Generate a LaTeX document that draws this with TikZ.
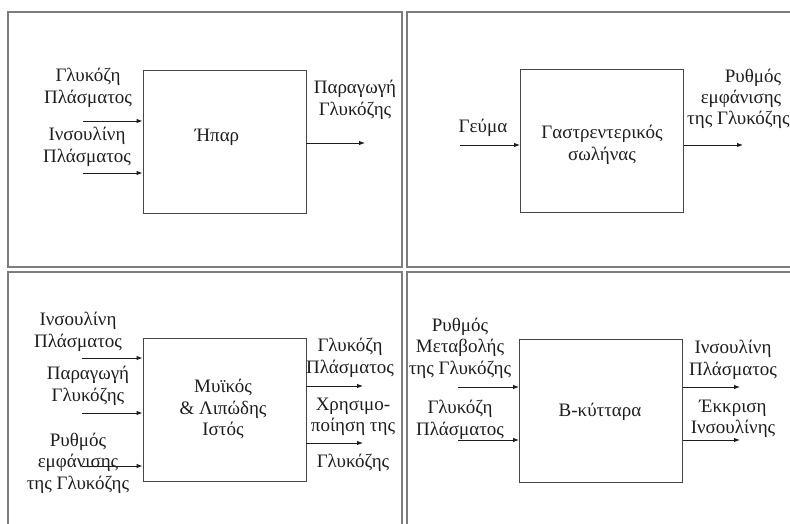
\documentclass[tikz,border=0pt]{standalone}
\usepackage{fontspec}
\setmainfont{Liberation Serif}
\usetikzlibrary{arrows.meta}
\definecolor{framegray}{RGB}{125,125,125}
\definecolor{blockgray}{RGB}{70,70,70}
\definecolor{inkgray}{RGB}{30,30,30}

\begin{document}
\begin{tikzpicture}[x=1pt, y=-1pt,
    panel/.style={draw=framegray, line width=1.6pt},
    block/.style={rectangle, draw=blockgray, line width=0.9pt, minimum width=163pt, minimum height=143pt, inner sep=0pt},
    lbl/.style={align=center, inner sep=0pt, text=inkgray, font=\fontsize{19}{21.5}\selectfont},
    sig/.style={line width=0.9pt, color=inkgray, -{Latex[length=6pt, width=4.5pt]}}
]
\useasboundingbox (0,0) rectangle (790,524);
\clip (0,0) rectangle (790,524);
% four panels
\draw[panel] (8,12) rectangle (402,267);
\draw[panel] (407,12) rectangle (800,267);
\draw[panel] (8,272) rectangle (402,540);
\draw[panel] (407,272) rectangle (800,540);

% liver
\node[block] (hpar) at (224.5,141.5) {};
\node[lbl] (hparname) at (217,137) {Ήπαρ};
\node[lbl] (glcA) at (88,88) {Γλυκόζη\\Πλάσματος};
\node[lbl] (insA) at (87,147) {Ινσουλίνη\\Πλάσματος};
\node[lbl] (prodA) at (355,100) {Παραγωγή\\Γλυκόζης};
\coordinate (glcAin) at (83,121);
\coordinate (insAin) at (83,173);
\coordinate (prodAout) at (365,143);
\draw[sig] (glcAin) -- (glcAin -| hpar.west);
\draw[sig] (insAin) -- (insAin -| hpar.west);
\draw[sig] (prodAout -| hpar.east) -- (prodAout);

% gut
\node[block] (gut) at (602,141) {};
\node[lbl] (gutname) at (602,145) {Γαστρεντερικός\\σωλήνας};
\node[lbl] (meal) at (483,128) {Γεύμα};
\node[lbl] (rateBa) at (753,78) {Ρυθμός};
\node[lbl] (rateBb) at (741,99) {εμφάνισης};
\node[lbl, anchor=west] (rateBc) at (687,120) {της Γλυκόζης};
\coordinate (mealin) at (460,145);
\coordinate (rateBout) at (743,145);
\draw[sig] (mealin) -- (mealin -| gut.west);
\draw[sig] (rateBout -| gut.east) -- (rateBout);

% muscle and fat
\node[block] (tissue) at (224.5,410) {};
\node[lbl] (tissuename) at (223,409) {Μυϊκός\\\& Λιπώδης\\Ιστός};
\node[lbl] (insC) at (78,332) {Ινσουλίνη\\Πλάσματος};
\node[lbl] (prodC) at (88,386) {Παραγωγή\\Γλυκόζης};
\node[lbl] (rateC) at (78,463) {Ρυθμός\\εμφάνισης\\της Γλυκόζης};
\node[lbl] (glcC) at (350,358) {Γλυκόζη\\Πλάσματος};
\node[lbl] (useC) at (353,417) {Χρησιμο-\\ποίηση της};
\node[lbl] (useCb) at (353,463) {Γλυκόζης};
\coordinate (insCin) at (82,358);
\coordinate (prodCin) at (82,413);
\coordinate (rateCin) at (82,466);
\coordinate (glcCout) at (363,386);
\coordinate (useCout) at (363,443);
\draw[sig] (insCin) -- (insCin -| tissue.west);
\draw[sig] (prodCin) -- (prodCin -| tissue.west);
\draw[sig] (rateCin) -- (rateCin -| tissue.west);
\draw[sig] (glcCout -| tissue.east) -- (glcCout);
\draw[sig] (useCout -| tissue.east) -- (useCout);

% beta cells
\node[block] (beta) at (601,410.5) {};
\node[lbl] (betaname) at (600,412) {Β-κύτταρα};
\node[lbl] (rateD) at (460,348) {Ρυθμός\\Μεταβολής\\της Γλυκόζης};
\node[lbl] (glcD) at (460,420) {Γλυκόζη\\Πλάσματος};
\node[lbl] (insD) at (733,360) {Ινσουλίνη\\Πλάσματος};
\node[lbl] (secD) at (733,419) {Έκκριση\\Ινσουλίνης};
\coordinate (rateDin) at (458,387);
\coordinate (glcDin) at (458,440);
\coordinate (insDout) at (740,387);
\coordinate (secDout) at (740,440);
\draw[sig] (rateDin) -- (rateDin -| beta.west);
\draw[sig] (glcDin) -- (glcDin -| beta.west);
\draw[sig] (insDout -| beta.east) -- (insDout);
\draw[sig] (secDout -| beta.east) -- (secDout);
\end{tikzpicture}
\end{document}
